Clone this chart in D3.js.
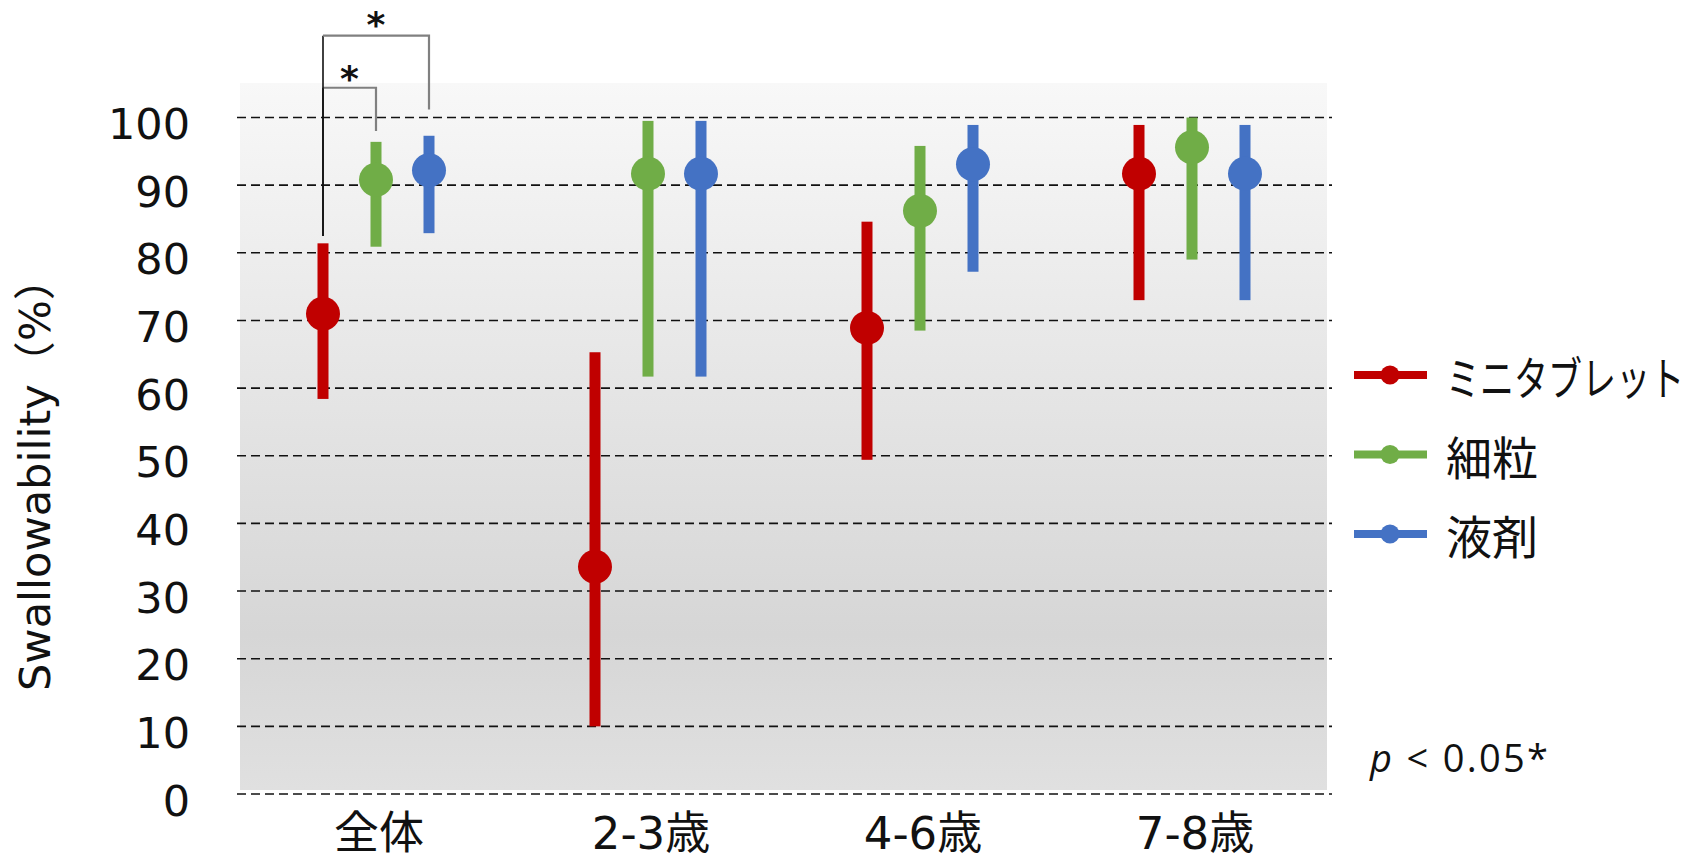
<!DOCTYPE html>
<html>
<head>
<meta charset="utf-8">
<script src="https://cdn.jsdelivr.net/npm/d3@7"></script>
<style>
  html, body { margin: 0; padding: 0; background: #fff; }
  svg { display: block; }
</style>
</head>
<body>
<svg id="chart" width="1696" height="863"></svg>
<script>
// Age groups and formulations
const categories = ["全体", "2-3歳", "4-6歳", "7-8歳"];
const seriesNames = ["ミニタブレット", "細粒", "液剤"];
const seriesColors = ["#c00000", "#70ad47", "#4472c4"];

// Swallowability point estimates (%)
const miniTabletMean = [71.0, 33.6, 68.9, 91.7];
const granuleMean    = [90.8, 91.7, 86.2, 95.6];
const liquidMean     = [92.2, 91.7, 93.1, 91.7];

// Lower interval bounds (%)
const miniTabletLow = [58.4, 10.0, 49.4, 73.0];
const granuleLow    = [80.9, 61.7, 68.5, 79.0];
const liquidLow     = [82.9, 61.7, 77.2, 73.0];

// Upper interval bounds (%)
const miniTabletHigh = [81.4, 65.3, 84.6, 98.9];
const granuleHigh    = [96.4, 99.5, 95.8, 100.0];
const liquidHigh     = [97.3, 99.5, 98.9, 98.9];

const yTicks = [0, 10, 20, 30, 40, 50, 60, 70, 80, 90, 100];

// Significance brackets on 全体: [from series, to series, bracket level, left foot, right foot, star level]
const brackets = [
  { from: 0, to: 1, level: 104.4, leftFoot: 82.5, rightFoot: 98.0, star: 106.8 },
  { from: 0, to: 2, level: 112.1, leftFoot: 82.5, rightFoot: 101.2, star: 114.9 }
];

const means = [miniTabletMean, granuleMean, liquidMean];
const lows = [miniTabletLow, granuleLow, liquidLow];
const highs = [miniTabletHigh, granuleHigh, liquidHigh];

const svg = d3.select("#chart");

const x = d3.scaleBand().domain(categories).range([240, 1328]);
const xSeries = d3.scalePoint().domain(d3.range(seriesNames.length)).range([-53, 53]);
const y = d3.scaleLinear().domain([0, 100]).range([794, 117.5]);

const latin = "'DejaVu Sans', 'Noto Sans CJK JP', sans-serif";

// Plot background gradient
const defs = svg.append("defs");
const grad = defs.append("linearGradient")
  .attr("id", "plotBg").attr("x1", 0).attr("y1", 0).attr("x2", 0).attr("y2", 1);
grad.append("stop").attr("offset", "0%").attr("stop-color", "#f8f8f8");
grad.append("stop").attr("offset", "78%").attr("stop-color", "#d6d6d6");
grad.append("stop").attr("offset", "100%").attr("stop-color", "#e0e0e0");

svg.append("rect")
  .attr("x", 240).attr("y", 83)
  .attr("width", 1087).attr("height", 707)
  .attr("fill", "url(#plotBg)");

// Dashed horizontal gridlines
svg.append("g")
  .selectAll("line")
  .data(yTicks)
  .join("line")
  .attr("x1", 237).attr("x2", 1332)
  .attr("y1", d => y(d)).attr("y2", d => y(d))
  .attr("stroke", "#111")
  .attr("stroke-width", 1.6)
  .attr("stroke-dasharray", "9,5");

// Y axis tick labels
const yAxis = d3.axisLeft(y).tickValues(yTicks).tickSize(0).tickPadding(0);
const yAxisG = svg.append("g").attr("transform", "translate(190,0)").call(yAxis);
yAxisG.select(".domain").remove();
yAxisG.selectAll("text")
  .attr("font-family", latin)
  .attr("font-size", 43)
  .attr("fill", "#111")
  .attr("dy", null)
  .attr("dominant-baseline", "central")
  .attr("transform", "translate(0,6)");

// X axis category labels
const xAxis = d3.axisBottom(x).tickSize(0).tickPadding(0);
const xAxisG = svg.append("g").attr("transform", "translate(3,0)").call(xAxis);
xAxisG.select(".domain").remove();
xAxisG.selectAll("text")
  .attr("font-family", latin)
  .attr("font-size", 45)
  .attr("fill", "#111")
  .attr("y", 849)
  .attr("dy", null);

// Y axis title
svg.append("text")
  .attr("transform", "translate(50,474) rotate(-90)")
  .attr("text-anchor", "middle")
  .attr("font-family", latin)
  .attr("font-size", 42)
  .attr("textLength", 434)
  .attr("lengthAdjust", "spacingAndGlyphs")
  .attr("fill", "#111")
  .text("Swallowability（%）");

// Interval bars and point estimates
const points = [];
seriesNames.forEach((name, s) => {
  categories.forEach((c, i) => {
    points.push({ s, c, mean: means[s][i], low: lows[s][i], high: highs[s][i] });
  });
});
const px = d => x(d.c) + x.bandwidth() / 2 + xSeries(d.s);

const marks = svg.append("g");
marks.selectAll("rect.bar")
  .data(points)
  .join("rect")
  .attr("class", "bar")
  .attr("x", d => px(d) - 5.5)
  .attr("width", 11)
  .attr("y", d => y(d.high))
  .attr("height", d => y(d.low) - y(d.high))
  .attr("fill", d => seriesColors[d.s]);

marks.selectAll("circle.dot")
  .data(points)
  .join("circle")
  .attr("class", "dot")
  .attr("cx", px)
  .attr("cy", d => y(d.mean))
  .attr("r", 17)
  .attr("fill", d => seriesColors[d.s]);

// Significance brackets
const bx = s => x(categories[0]) + x.bandwidth() / 2 + xSeries(s);
const bg = svg.append("g");
brackets.forEach(b => {
  bg.append("line")
    .attr("x1", bx(b.from)).attr("x2", bx(b.from))
    .attr("y1", y(b.leftFoot)).attr("y2", y(b.level))
    .attr("stroke", "#111").attr("stroke-width", 1.6);
  bg.append("polyline")
    .attr("points", [[bx(b.from), y(b.level)], [bx(b.to), y(b.level)], [bx(b.to), y(b.rightFoot)]].map(p => p.join(",")).join(" "))
    .attr("fill", "none")
    .attr("stroke", "#808080").attr("stroke-width", 2.2);
  bg.append("text")
    .attr("x", (bx(b.from) + bx(b.to)) / 2)
    .attr("y", y(b.star) + 20)
    .attr("text-anchor", "middle")
    .attr("font-family", latin)
    .attr("font-weight", "bold")
    .attr("font-size", 36)
    .attr("fill", "#111")
    .text("*");
});

// Legend
const legend = svg.append("g");
const legendY = d3.scalePoint().domain(d3.range(seriesNames.length)).range([375, 534]);
seriesNames.forEach((name, s) => {
  const ly = legendY(s);
  legend.append("line")
    .attr("x1", 1354).attr("x2", 1427)
    .attr("y1", ly).attr("y2", ly)
    .attr("stroke", seriesColors[s]).attr("stroke-width", 8);
  legend.append("circle")
    .attr("cx", 1390).attr("cy", ly).attr("r", 9.5)
    .attr("fill", seriesColors[s]);
  // Long katakana label is set with narrower glyphs
  const sx = name.length > 2 ? 0.74 : 1;
  legend.append("text")
    .attr("transform", `translate(1446,${ly}) scale(${sx},1)`)
    .attr("dominant-baseline", "central")
    .attr("font-family", "'Noto Sans CJK JP', sans-serif")
    .attr("font-size", 46)
    .attr("fill", "#111")
    .text(name);
});

// Significance note
const note = svg.append("text")
  .attr("x", 1370).attr("y", 772)
  .attr("font-family", "'Open Sans', sans-serif")
  .attr("font-size", 38)
  .attr("textLength", 178)
  .attr("lengthAdjust", "spacing")
  .attr("fill", "#111");
note.append("tspan").attr("font-style", "italic").text("p");
note.append("tspan").text(" < 0.05*");
</script>
</body>
</html>
